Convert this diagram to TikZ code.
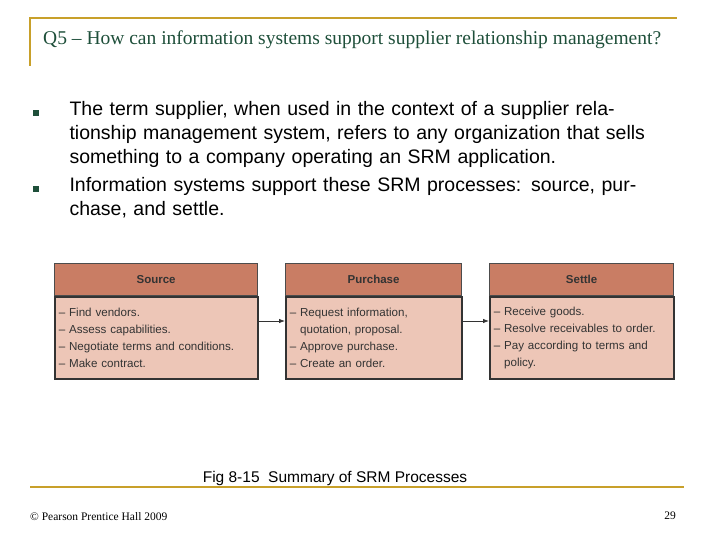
\documentclass[tikz,border=0pt]{standalone}
\usepackage{fontspec}
\setmainfont{Liberation Serif}
\setsansfont{Liberation Sans}
\usetikzlibrary{arrows.meta}
\definecolor{gold}{HTML}{C8A02A}
\definecolor{tgreen}{HTML}{1E4F3A}
\definecolor{hdr}{HTML}{C97D64}
\definecolor{bdy}{HTML}{EDC6B7}
\begin{document}
\begin{tikzpicture}[x=1pt,y=-1pt,
  hd/.style={draw=black!70,line width=1.2pt,fill=hdr,minimum height=32,font=\sffamily\bfseries\fontsize{11.5}{12}\selectfont,text=black!80},
  bd/.style={draw=black!80,line width=1.6pt,fill=bdy,anchor=north west,inner xsep=4,inner ysep=4,font=\sffamily\fontsize{11.6}{16.8}\selectfont,text=black!80,align=left},
  bul/.style={fill=tgreen,minimum size=6.5,inner sep=0},
  body/.style={anchor=north west,font=\sffamily\fontsize{19.5}{24}\selectfont,align=left,text width=585}]
\useasboundingbox (0,0) rectangle (720,540);
\draw[gold,line width=2.5pt] (30,66) -- (30,18) -- (677,18);
\draw[gold,line width=2pt] (30,487) -- (684,487);
\node[anchor=west,text=tgreen,font=\fontsize{19.5}{22}\selectfont,inner sep=0] (title) at (43,40) {Q5 -- How can information systems support supplier relationship management?};
\node[bul] (b1) at (36,113) {};
\node[bul] (b2) at (36,189) {};
\node[body] (t1) at (66,98) {The term supplier, when used in the context of a supplier relationship management system, refers to any organization that sells something to a company operating an SRM application.};
\node[body] (t2) at (66,174) {Information systems support these SRM processes: source, purchase, and settle.};
% boxes
\node[bd,minimum width=203,minimum height=82,text width=195] (sb) at (54,296) {-- Find vendors.\\-- Assess capabilities.\\-- Negotiate terms and conditions.\\-- Make contract.};
\node[hd,minimum width=203,anchor=south west] (sh) at (54,296) {Source};
\node[bd,minimum width=176,minimum height=82,text width=168] (pb) at (285,296) {-- Request information,\\\phantom{-- }quotation, proposal.\\-- Approve purchase.\\-- Create an order.};
\node[hd,minimum width=176,anchor=south west] (ph) at (285,296) {Purchase};
\node[bd,minimum width=184,minimum height=82,text width=176] (eb) at (489,296) {-- Receive goods.\\-- Resolve receivables to order.\\-- Pay according to terms and\\\phantom{-- }policy.};
\node[hd,minimum width=184,anchor=south west] (eh) at (489,296) {Settle};
\draw[-{Latex[length=6pt]},black!80,line width=0.8pt] (sb.east|-0,321) -- (pb.west|-0,321);
\draw[-{Latex[length=6pt]},black!80,line width=0.8pt] (pb.east|-0,321) -- (eb.west|-0,321);
\node[font=\sffamily\fontsize{15.5}{17}\selectfont] (cap) at (335,478) {Fig 8-15\ \ Summary of SRM Processes};
\node[anchor=west,font=\fontsize{11.5}{13}\selectfont,inner sep=0] (ft) at (30,517) {© Pearson Prentice Hall 2009};
\node[font=\fontsize{11.5}{13}\selectfont] (pg) at (670,516) {29};
\end{tikzpicture}
\end{document}
